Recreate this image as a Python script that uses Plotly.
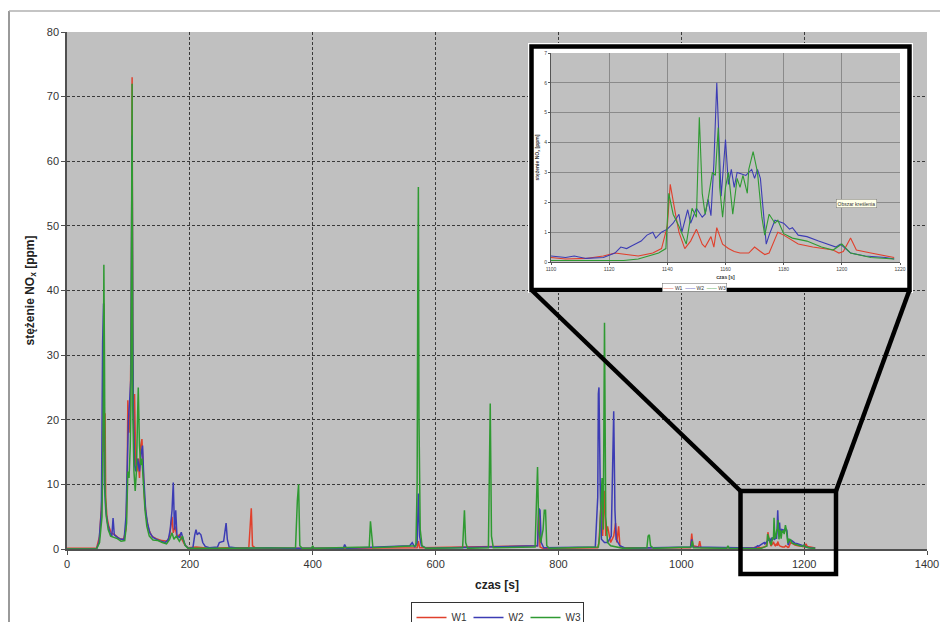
import plotly.graph_objects as go

# ---------------- data (time [s], NOx [ppm]) ----------------
t_w1 = [0, 48, 53, 57, 59, 60, 61, 62, 63, 65, 68, 72, 78, 85, 92, 96, 98, 99, 101, 103, 105, 106, 107, 109, 110,
        112, 114, 116, 118, 120, 122, 124, 126, 129, 133, 138, 145, 155, 163, 167, 170, 171, 173, 176, 179, 183,
        187, 192, 197, 210, 230, 260, 296, 298, 300, 302, 306, 330, 398, 400, 402, 570, 572, 574, 766, 768, 770,
        775, 864, 866, 868, 870, 872, 875, 877, 880, 885, 890, 893, 895, 898, 900, 905, 1015, 1017, 1019, 1028,
        1030, 1032,
        1100, 1105, 1112, 1118, 1122, 1126, 1130, 1135, 1138, 1140, 1141, 1143, 1144, 1146, 1148, 1150, 1152,
        1153, 1155, 1156, 1157, 1159, 1161, 1163, 1165, 1168, 1170, 1172, 1173.5, 1175, 1178, 1180, 1185, 1190,
        1197, 1199, 1200.5, 1203, 1205, 1210, 1218]
v_w1 = [0.1, 0.1, 2, 8, 20, 38, 15, 21, 8, 5, 3.5, 2.5, 2.2, 1.6, 1.5, 3, 10, 23, 18, 22, 40, 73, 30, 15, 24,
        13, 12, 14, 11, 16, 17, 12, 8, 5, 3, 2, 1.6, 1.3, 1.2, 2, 4, 5, 2.5, 3.5, 1.8, 2.2,
        1.5, 0.6, 0.2, 0.3, 0.1, 0.2, 0.2, 4.5, 6.3, 0.5, 0.2, 0.1, 0.1, 0.3, 0.1, 0.2, 1.2, 0.2, 0.5, 6.0, 0.3,
        0.1, 0.2, 1.0, 5, 8, 2, 9, 2, 3.5, 1, 2, 4, 1, 3.5, 0.5, 0.2, 0.2, 2.4, 0.5, 0.3,
        1.2, 0.2,
        0.15, 0.1, 0.12, 0.2, 0.3, 0.25, 0.2, 0.3, 0.45, 1.2, 2.6, 1.5, 1.0, 0.45, 0.7, 1.1, 0.6,
        0.5, 0.85, 0.5, 1.15, 0.6, 0.45, 0.35, 0.3, 0.3, 0.5, 0.35, 0.25, 0.3, 1.0, 0.9, 0.6, 0.5, 0.4,
        0.3, 0.35, 0.8, 0.4, 0.3, 0.15, 0.1]

t_w2 = [0, 48, 52, 56, 58, 59.5, 61, 63, 66, 70, 73, 75, 77, 82, 88, 93, 96, 98, 100, 102, 104, 105, 106, 107,
        108, 110, 112, 115, 118, 121, 123, 125, 128, 131, 135, 140, 150, 160, 165, 168, 171, 173, 175, 177, 179,
        183, 186, 189, 193, 198, 205, 208, 210, 212, 215, 218, 221, 225, 232, 245, 248, 255, 257, 259, 261, 264,
        280, 330, 360, 398, 400, 402, 450, 452, 455, 558, 562, 566, 570, 572, 574, 577, 585, 690, 766, 768, 770,
        772, 776, 860, 864, 865, 866, 868, 870, 875, 880, 886, 888, 890, 892, 894, 900, 910, 1015, 1017, 1019,
        1100, 1105, 1108, 1112, 1118, 1122, 1124, 1126, 1128, 1131, 1133, 1135, 1136, 1138, 1140, 1142, 1144,
        1145, 1147, 1148, 1150, 1152, 1153, 1154, 1155, 1156, 1157, 1158.5, 1160, 1161, 1162, 1163, 1164, 1167,
        1169, 1170, 1171, 1172, 1174, 1175, 1177, 1180, 1182, 1183, 1185, 1188, 1192, 1198, 1199.5, 1203, 1208,
        1215, 1218]
v_w2 = [0, 0, 1, 6, 32, 38, 10, 6, 4, 2.5, 2, 4.8, 2.2, 1.8, 1.5, 1.5, 5, 14, 20, 23, 26.5, 47, 64, 35,
        22, 13, 12, 14, 12, 15, 16, 11, 6, 4, 2.5, 1.8, 1.3, 1.0, 1.5, 3, 6, 10.3, 3, 6, 2,
        1.8, 2.6, 1.5, 0.5, 0.1, 0.2, 2.2, 3, 2.2, 2.5, 2.2, 1, 0.4, 0.2, 0.3, 1, 1.2, 3, 4, 1.5, 0.3,
        0.1, 0.2, 0.1, 0.1, 0.3, 0.1, 0.1, 0.7, 0.1, 0.5, 1, 0.3, 1, 8.6, 2, 0.5, 0.1, 0.3, 0.5, 6.3, 6,
        1, 0.2, 0.3, 8, 24, 25, 10, 1.5, 1.0, 1, 2, 10, 21.3, 6, 1.5, 0.5, 0.1, 0.3, 1.5, 0.3,
        0.2, 0.15, 0.2, 0.12, 0.15, 0.3, 0.5, 0.45, 0.55, 0.7, 0.9, 1.0, 0.8, 1.0, 1.1, 1.3, 1.6,
        1.0, 1.75, 1.3, 1.8, 1.5, 1.6, 2.1, 1.55, 3.3, 6.0, 2.2, 4.1, 2.6, 3.1, 2.5, 3.0, 2.9,
        3.1, 2.8, 3.1, 2.8, 0.6, 0.9, 1.4, 1.3, 1.1, 1.15, 0.9, 0.85, 0.7, 0.5, 0.6, 0.3, 0.2,
        0.15, 0.1]

t_w3 = [0, 48, 53, 57, 59, 60, 61, 62, 64, 67, 71, 76, 82, 88, 94, 97, 99, 101, 103, 104, 105, 106, 107, 109,
        111, 113, 115, 116, 118, 120, 122, 124, 127, 130, 134, 140, 148, 155, 162, 167, 171, 174, 178, 183, 188,
        192, 197, 250, 300, 372, 375, 377, 379, 383, 398, 400, 402, 492, 494, 496, 498, 568, 570, 571, 572, 573,
        575, 578, 585, 644, 646, 647, 649, 652, 686, 688, 689, 691, 694, 762, 764, 766, 768, 771, 775, 777, 779,
        781, 785, 865, 867, 871, 873, 874, 875, 877, 880, 885, 895, 905, 944, 946, 948, 950, 955, 1016, 1018,
        1020, 1074, 1076, 1078, 1100, 1125, 1130, 1134, 1137, 1139.5, 1140.5, 1142, 1144, 1146.5, 1148.5, 1150,
        1151, 1152, 1153, 1154, 1155.5, 1156.5, 1157.5, 1158, 1159, 1160, 1161, 1162.5, 1163, 1164, 1165, 1166,
        1167.5, 1168, 1169.5, 1171, 1172.5, 1173.5, 1175, 1177, 1178, 1180, 1183, 1188, 1193, 1197, 1200, 1203,
        1210, 1218]
v_w3 = [0, 0, 1, 5, 20, 44, 30, 9, 5, 3, 2, 1.8, 1.6, 1.2, 1.3, 4, 12, 11, 16, 22, 48, 72, 22, 12,
        9, 12, 21, 25, 16, 13, 14, 10, 6, 3.5, 2, 1.4, 1.3, 1.0, 0.8, 1.5, 2.5, 1.5, 2, 1.2, 2,
        0.6, 0.1, 0.1, 0.1, 0.2, 7.5, 10, 0.5, 0.1, 0.1, 0.5, 0.1, 0.3, 4.3, 2, 0.2, 0.5, 10, 40, 56, 20,
        3, 0.5, 0.1, 0.2, 5, 6, 1, 0.1, 0.2, 15, 22.5, 2, 0.2, 0.3, 6, 12.7, 3, 1, 3, 6, 6,
        0.5, 0.1, 0.3, 2, 11, 3, 25, 35, 5, 1, 0.5, 0.3, 0.1, 0.2, 2, 2.2, 0.5, 0.1, 0.3, 1.2,
        0.2, 0.1, 0.5, 0.1, 0.05, 0.05, 0.1, 0.2, 0.3, 0.45, 2.3, 1.6, 1.2, 0.6, 1.8, 1.5,
        4.85, 2.3, 1.6, 2.1, 3.0, 2.9, 4.5, 2.5, 1.5, 2.5, 3.0, 1.6, 2.0, 2.8, 2.5, 2.9,
        2.3, 3.1, 3.7, 3.0, 1.5, 0.9, 1.6, 1.3, 1.4, 0.95, 0.8, 0.7, 0.5, 0.4, 0.6, 0.3,
        0.15, 0.1]

series_names = ["W1", "W2", "W3"]
series_colors = ["#e0402c", "#3c3cb4", "#2f9a32"]
series_t = [t_w1, t_w2, t_w3]
series_v = [v_w1, v_w2, v_w3]

x_ticks_main = [0, 200, 400, 600, 800, 1000, 1200, 1400]
y_ticks_main = [0, 10, 20, 30, 40, 50, 60, 70, 80]
x_ticks_inset = [1100, 1120, 1140, 1160, 1180, 1200, 1220]
y_ticks_inset = [0, 1, 2, 3, 4, 5, 6, 7]

FONT = "Liberation Sans, Arial, sans-serif"

fig = go.Figure()

# main traces
for name, col, tt, vv in zip(series_names, series_colors, series_t, series_v):
    fig.add_trace(go.Scatter(x=tt, y=vv, mode="lines", name=name,
                             line=dict(color=col, width=1.5)))

# empty trace to create the white inset box subplot
fig.add_trace(go.Scatter(x=[], y=[], xaxis="x2", yaxis="y2", showlegend=False, hoverinfo="skip"))

# inset traces (zoom of the same data)
for name, col, tt, vv in zip(series_names, series_colors, series_t, series_v):
    fig.add_trace(go.Scatter(x=tt, y=vv, mode="lines", name=name, xaxis="x3", yaxis="y3",
                             line=dict(color=col, width=1.1), showlegend=False))


def px_x(p):
    return (p - 67) / 860.0


def px_y(p):
    return (549 - p) / 517.0


fig.update_layout(
    width=940, height=622,
    margin=dict(l=67, r=13, t=32, b=73, autoexpand=False),
    paper_bgcolor="white",
    plot_bgcolor="#c0c0c0",
    font=dict(family=FONT, color="#333333", size=11),
    showlegend=True,
    xaxis=dict(range=[0, 1400], tickvals=x_ticks_main, showgrid=True, gridcolor="#3a3a3a",
               griddash="3px,2px", gridwidth=1, showline=True, linecolor="#505050", linewidth=1.5,
               ticks="outside", ticklen=4, tickcolor="#505050", zeroline=False, automargin=False,
               tickfont=dict(size=11, color="#333333"),
               title=dict(text="<b>czas [s]</b>", font=dict(size=12, color="#222222"), standoff=12)),
    yaxis=dict(range=[0, 80], tickvals=y_ticks_main, showgrid=True, gridcolor="#3a3a3a",
               griddash="3px,2px", gridwidth=1, showline=True, linecolor="#505050", linewidth=1.5,
               ticks="outside", ticklen=4, tickcolor="#505050", zeroline=False, automargin=False,
               tickfont=dict(size=11, color="#333333"),
               title=dict(text="<b>stężenie NO<sub>x</sub> [ppm]</b>", font=dict(size=12, color="#222222"),
                          standoff=10)),
    xaxis2=dict(domain=[px_x(528), px_x(913)], range=[0, 1], visible=False, anchor="y2"),
    yaxis2=dict(domain=[px_y(293), px_y(43)], range=[0, 1], visible=False, anchor="x2"),
    xaxis3=dict(domain=[px_x(551), px_x(900)], range=[1100, 1220], tickvals=x_ticks_inset, anchor="y3",
                showgrid=True, gridcolor="#8a8a8a", gridwidth=1, showline=True, linecolor="#555555",
                linewidth=1, ticks="outside", ticklen=2, tickcolor="#555555", zeroline=False,
                automargin=False, tickfont=dict(size=5, color="#444444"),
                title=dict(text="<b>czas [s]</b>", font=dict(size=5, color="#333333"), standoff=4)),
    yaxis3=dict(domain=[px_y(262), px_y(53)], range=[0, 7], tickvals=y_ticks_inset, anchor="x3",
                showgrid=True, gridcolor="#8a8a8a", gridwidth=1, showline=True, linecolor="#555555",
                linewidth=1, ticks="outside", ticklen=2, tickcolor="#555555", zeroline=False,
                automargin=False, tickfont=dict(size=5, color="#444444"),
                title=dict(text="<b>stężenie NO<sub>x</sub> [ppm]</b>", font=dict(size=5, color="#333333"),
                           standoff=4)),
    legend=dict(orientation="h", x=0.5, xanchor="center", y=px_y(602), yanchor="top",
                bordercolor="#333333", borderwidth=1, bgcolor="white",
                font=dict(size=10, color="#333333"), entrywidth=12, itemwidth=30,
                tracegroupgap=0),
)

shapes = []
# white background of inset box (inside box subplot)
shapes.append(dict(type="rect", xref="x2", yref="y2", x0=0, x1=1, y0=0, y1=1,
                   fillcolor="white", line=dict(width=0), layer="below"))
# thick black inset frame
shapes.append(dict(type="rect", xref="paper", yref="paper", x0=px_x(531.5), x1=px_x(909.5),
                   y0=px_y(290), y1=px_y(46.5), line=dict(color="black", width=4.5), layer="above"))
# zoom rectangle in main plot
shapes.append(dict(type="rect", xref="paper", yref="paper", x0=px_x(740.5), x1=px_x(836),
                   y0=px_y(574), y1=px_y(491), line=dict(color="black", width=4.5), layer="above"))
# connecting lines
shapes.append(dict(type="line", xref="paper", yref="paper", x0=px_x(531.5), y0=px_y(290),
                   x1=px_x(740.5), y1=px_y(491), line=dict(color="black", width=4.5), layer="above"))
shapes.append(dict(type="line", xref="paper", yref="paper", x0=px_x(909.5), y0=px_y(290),
                   x1=px_x(836), y1=px_y(491), line=dict(color="black", width=4.5), layer="above"))
# outer chart-area frame (left and top edge)
shapes.append(dict(type="line", xref="paper", yref="paper", x0=px_x(9), y0=px_y(11),
                   x1=px_x(9), y1=px_y(640), line=dict(color="#9a9a9a", width=2), layer="above"))
shapes.append(dict(type="line", xref="paper", yref="paper", x0=px_x(9), y0=px_y(11),
                   x1=px_x(960), y1=px_y(11), line=dict(color="#b0b0b0", width=1.5), layer="above"))
fig.update_layout(shapes=shapes)

# inset legend (tiny, as in the embedded screenshot)
inset_legend = "  ".join(
    f"<span style='color:{c}'>——</span> {n}" for n, c in zip(series_names, series_colors))
fig.add_annotation(xref="paper", yref="paper", x=px_x(727), y=px_y(287), text=inset_legend,
                   showarrow=False, font=dict(size=5, color="#333333"), bgcolor="white",
                   bordercolor="#666666", borderwidth=0.5, borderpad=1)

# Excel tooltip visible in the embedded screenshot
fig.add_annotation(xref="paper", yref="paper", x=px_x(877), y=px_y(199), text="Obszar kreślenia",
                   showarrow=False, font=dict(size=5, color="#333333"), bgcolor="#ffffe8",
                   bordercolor="#777777", borderwidth=0.5, borderpad=1)

fig.write_html("out.html")
